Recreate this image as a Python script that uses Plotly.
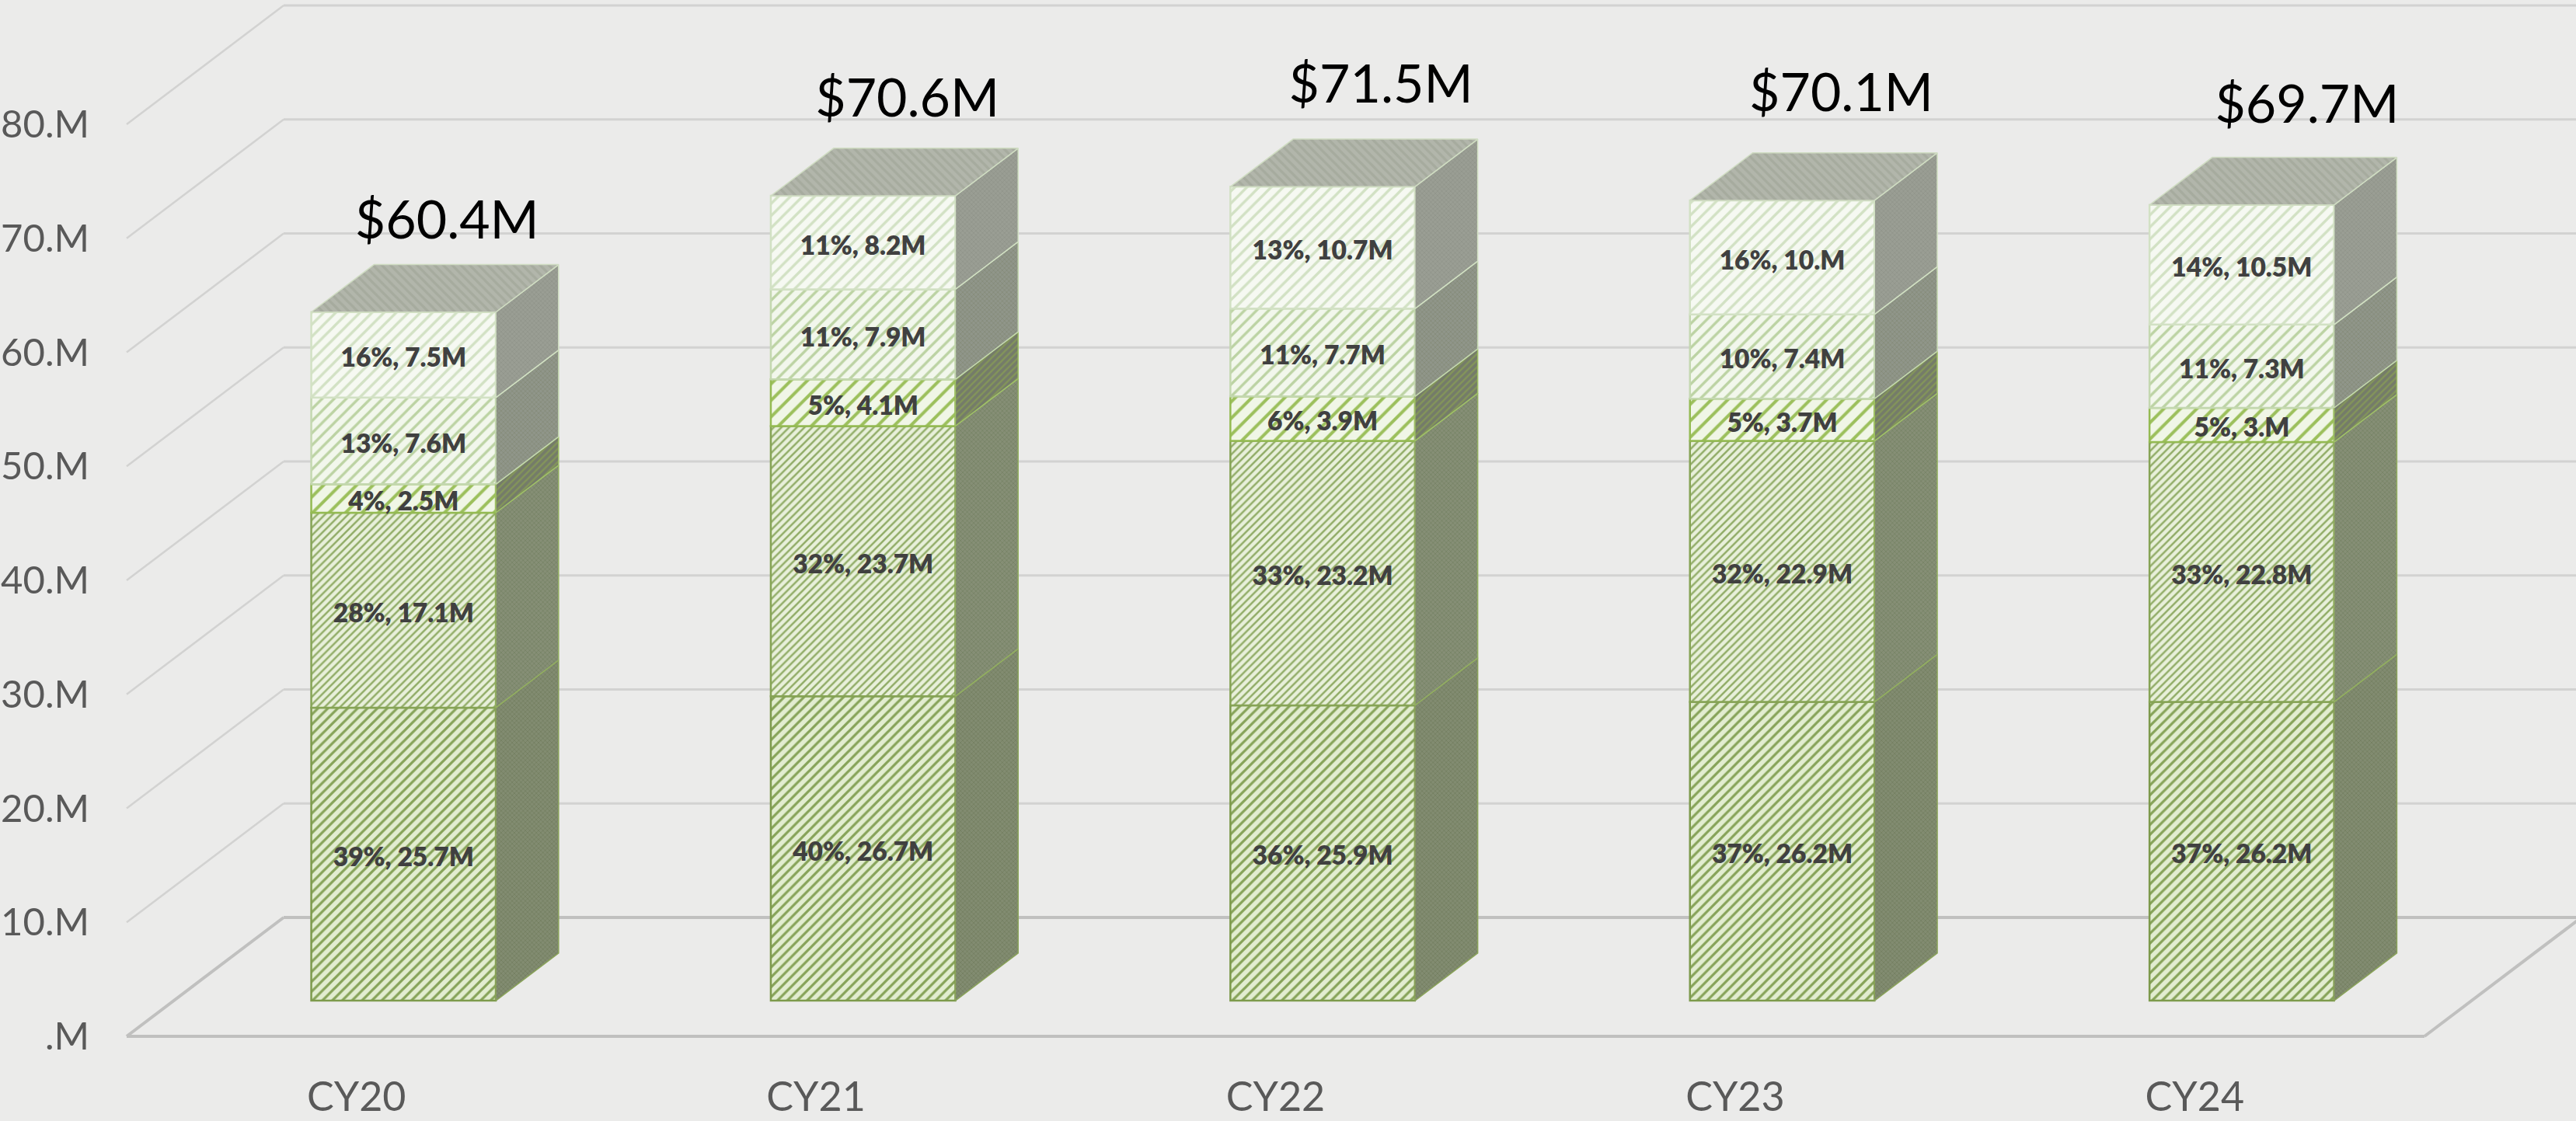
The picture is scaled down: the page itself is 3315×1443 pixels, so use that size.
import plotly.graph_objects as go

# ---- data ----
categories = ["CY20", "CY21", "CY22", "CY23", "CY24"]
tick_values = [0, 10, 20, 30, 40, 50, 60, 70, 80]
tick_labels = [".M", "10.M", "20.M", "30.M", "40.M", "50.M", "60.M", "70.M", "80.M"]
series_1 = [25.7, 26.7, 25.9, 26.2, 26.2]
series_2 = [17.1, 23.7, 23.2, 22.9, 22.8]
series_3 = [2.5, 4.1, 3.9, 3.7, 3.0]
series_4 = [7.6, 7.9, 7.7, 7.4, 7.3]
series_5 = [7.5, 8.2, 10.7, 10.0, 10.5]
share_1 = ["39%", "40%", "36%", "37%", "37%"]
share_2 = ["28%", "32%", "33%", "32%", "33%"]
share_3 = ["4%", "5%", "6%", "5%", "5%"]
share_4 = ["13%", "11%", "11%", "10%", "11%"]
share_5 = ["16%", "11%", "13%", "16%", "14%"]
value_1 = ["25.7M", "26.7M", "25.9M", "26.2M", "26.2M"]
value_2 = ["17.1M", "23.7M", "23.2M", "22.9M", "22.8M"]
value_3 = ["2.5M", "4.1M", "3.9M", "3.7M", "3.M"]
value_4 = ["7.6M", "7.9M", "7.7M", "7.4M", "7.3M"]
value_5 = ["7.5M", "8.2M", "10.7M", "10.M", "10.5M"]
totals = [60.4, 70.6, 71.5, 70.1, 69.7]
total_labels = ["$60.4M", "$70.6M", "$71.5M", "$70.1M", "$69.7M"]

# ---- styling / projection ----
W, H = 3315, 1443
PX_X = 591.4            # px per category
PX_Y = 14.675           # px per 1M
DEPTH_X = 202 / PX_X    # oblique depth of the floor in category units
DEPTH_Y = 153 / PX_Y    # oblique depth of the floor in value units
D_FRONT, D_BACK = 0.3, 0.7
BAR_W = 237.5 / PX_X
M_L, M_B = 150, 0
x_range = [-0.5 - (163 - M_L) / PX_X, -0.5 + (W - 163) / PX_X]
y_range = [-(H - M_B - 1334) / PX_Y, 1334 / PX_Y]
BG = "#ebebea"

styles = [
    dict(fg="#86a358", bg="#e2edd0", size=9, sol=0.36, edge="#7d9a4c",
         sfg="#747f62", sbg="#828c71", sshape="x", ssize=4, sedge="#8aa35a"),
    dict(fg="#92ad68", bg="#e8f0da", size=7, sol=0.36, edge="#86a455",
         sfg="#788366", sbg="#868f76", sshape="x", ssize=4, sedge="#93b060"),
    dict(fg="#9cc05c", bg="#f0f6e6", size=15, sol=0.27, edge="#94bb52",
         sfg="#83955a", sbg="#747b69", sshape="/", ssize=6, sedge="#a0c168"),
    dict(fg="#bcd3a3", bg="#f2f7ec", size=11, sol=0.30, edge="#c4d8b0",
         sfg="#858c7b", sbg="#90968a", sshape="x", ssize=4, sedge="#c4d8b0"),
    dict(fg="#d2e1c4", bg="#f6f9f2", size=11, sol=0.30, edge="#d2e1c4",
         sfg="#91958b", sbg="#9a9e94", sshape="x", ssize=4, sedge="#d2e1c4"),
]
all_series = [series_1, series_2, series_3, series_4, series_5]
all_shares = [share_1, share_2, share_3, share_4, share_5]
all_values = [value_1, value_2, value_3, value_4, value_5]

# label placement (px)
total_dx_px = [56, 57, 75, 76, 84]
total_dy_px = [112, 119, 125, 132, 123]
LABEL_DROP_PX = 7

fig = go.Figure()
idx = list(range(len(categories)))
x_front = [i + D_FRONT * DEPTH_X for i in idx]
lift_front = D_FRONT * DEPTH_Y
dx_side = (D_BACK - D_FRONT) * DEPTH_X
dy_side = (D_BACK - D_FRONT) * DEPTH_Y

cum = [0.0] * len(idx)
lab_x, lab_y, lab_t = [], [], []
for k, (vals, st) in enumerate(zip(all_series, styles)):
    bases = [c + lift_front for c in cum]
    fig.add_bar(
        x=x_front, y=vals, base=bases, width=BAR_W,
        marker=dict(
            color=st["bg"],
            line=dict(color=st["edge"], width=2.5),
            pattern=dict(shape="/", fgcolor=st["fg"], bgcolor=st["bg"], size=st["size"],
                         solidity=st["sol"], fillmode="replace"),
        ),
        showlegend=False, hoverinfo="skip",
    )
    for i in idx:
        xr = x_front[i] + BAR_W / 2
        v0, v1 = bases[i], bases[i] + vals[i]
        fig.add_scatter(
            x=[xr, xr + dx_side, xr + dx_side, xr, xr],
            y=[v0, v0 + dy_side, v1 + dy_side, v1, v0],
            mode="lines", fill="toself", fillcolor=st["sbg"],
            fillpattern=dict(shape=st["sshape"], fgcolor=st["sfg"], bgcolor=st["sbg"],
                             size=st["ssize"], solidity=0.4, fillmode="replace"),
            line=dict(color=st["sedge"], width=1.5),
            showlegend=False, hoverinfo="skip",
        )
        lab_x.append(x_front[i])
        lab_y.append(bases[i] + vals[i] / 2 - LABEL_DROP_PX / PX_Y)
        lab_t.append(f"{all_shares[k][i]}, {all_values[k][i]}")
    cum = [c + v for c, v in zip(cum, vals)]

# top faces
for i in idx:
    xl, xr = x_front[i] - BAR_W / 2, x_front[i] + BAR_W / 2
    v = cum[i] + lift_front
    fig.add_scatter(
        x=[xl, xr, xr + dx_side, xl + dx_side, xl],
        y=[v, v, v + dy_side, v + dy_side, v],
        mode="lines", fill="toself", fillcolor="#b0b4a9",
        fillpattern=dict(shape="\\", fgcolor="#a6ab9e", bgcolor="#b2b6ab",
                         size=8, solidity=0.4, fillmode="replace"),
        line=dict(color="#cfdcc2", width=1.5),
        showlegend=False, hoverinfo="skip",
    )

# segment labels
fig.add_scatter(
    x=lab_x, y=lab_y, text=lab_t, mode="text", textposition="middle center",
    textfont=dict(family="Lato", size=33.5, color="#404040", weight=800),
    showlegend=False, hoverinfo="skip",
)
# total labels
fig.add_scatter(
    x=[x_front[i] + total_dx_px[i] / PX_X for i in idx],
    y=[cum[i] + lift_front + total_dy_px[i] / PX_Y for i in idx],
    text=total_labels, mode="text", textposition="middle center",
    textfont=dict(family="Lato", size=68, color="#000000"),
    showlegend=False, hoverinfo="skip",
)

# back wall, side wall and floor lines
shapes = []
def seg(x0, y0, x1, y1, color, width):
    shapes.append(dict(type="line", layer="below", xref="x", yref="y",
                       x0=x0, y0=y0, x1=x1, y1=y1, line=dict(color=color, width=width)))
x_left = -0.5
x_right = -0.5 + len(categories)
for t in tick_values[1:]:
    seg(x_left + DEPTH_X, t + DEPTH_Y, x_range[1], t + DEPTH_Y, "#d2d2d1", 3)
    seg(x_left, t, x_left + DEPTH_X, t + DEPTH_Y, "#d2d2d1", 2.5)
seg(x_left + DEPTH_X, DEPTH_Y, x_range[1], DEPTH_Y, "#c0c0bf", 4)
seg(x_left, 0, x_right, 0, "#c0c0bf", 4)
seg(x_left, 0, x_left + DEPTH_X, DEPTH_Y, "#c0c0bf", 4)
seg(x_right, 0, x_right + DEPTH_X, DEPTH_Y, "#c0c0bf", 4)

fig.update_layout(
    width=W, height=H, margin=dict(l=M_L, r=0, t=0, b=M_B, pad=0),
    paper_bgcolor=BG, plot_bgcolor=BG, barmode="overlay", shapes=shapes,
    xaxis=dict(range=x_range, tickmode="array", tickvals=idx, ticktext=categories,
               showgrid=False, zeroline=False, showline=False, ticks="",
               ticklabelposition="inside",
               tickfont=dict(family="Lato", size=52, color="#595959")),
    yaxis=dict(range=y_range, tickmode="array", tickvals=tick_values, ticktext=tick_labels,
               showgrid=False, zeroline=False, showline=False, ticks="",
               tickfont=dict(family="Lato", size=49, color="#595959"), ticklabelstandoff=34),
)
fig.write_html("out.html", config={"displayModeBar": False},
               post_script="document.body.style.margin='0';document.body.style.background='#ebebea';")
